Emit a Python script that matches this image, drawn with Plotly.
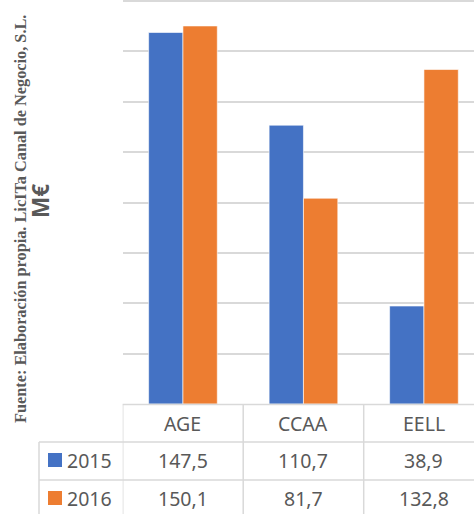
import plotly.graph_objects as go

categories = ["AGE", "CCAA", "EELL"]
years = ["2015", "2016"]
values_2015 = [147.5, 110.7, 38.9]
values_2016 = [150.1, 81.7, 132.8]
labels_2015 = ["147,5", "110,7", "38,9"]
labels_2016 = ["150,1", "81,7", "132,8"]

W, H = 474, 514
colors = ["#4472C4", "#ED7D31"]
txt = "#595959"
grid = "#d9d9d9"

def py(p):  # pixel y -> paper y
    return (H - p) / H

def px(p):
    return p / W

fig = go.Figure()
for name, vals, col in zip(years, [values_2015, values_2016], colors):
    fig.add_trace(go.Bar(x=categories, y=vals, name=name, marker_color=col,
                         marker_line=dict(color="rgba(255,255,255,0.6)", width=1)))

x_left = 122.7
col_w = 120.5
x_max = (W - x_left) / col_w - 0.5

fig.update_layout(
    width=W, height=H, margin=dict(l=0, r=0, t=0, b=0),
    paper_bgcolor="white", plot_bgcolor="white",
    showlegend=False, barmode="group", bargap=0.43, bargroupgap=0,
    xaxis=dict(domain=[px(x_left), 1], range=[-0.5, x_max], showticklabels=False,
               showgrid=False, zeroline=False, showline=False, ticks=""),
    yaxis=dict(domain=[py(404), 1], range=[0, 160.4], dtick=20, showticklabels=False,
               showgrid=True, gridcolor=grid, gridwidth=1.5, zeroline=False, showline=False,
               ticks=""),
    font=dict(family="Noto Sans", color=txt),
)

shapes = []
line = dict(color=grid, width=1.5)
# horizontal table lines
shapes.append(dict(type="line", xref="paper", yref="paper", x0=px(x_left), x1=1, y0=py(404.5), y1=py(404.5), line=line))
for yy in [442, 480]:
    shapes.append(dict(type="line", xref="paper", yref="paper", x0=px(39), x1=1, y0=py(yy), y1=py(yy), line=line))
# vertical table lines
shapes.append(dict(type="line", xref="paper", yref="paper", x0=px(39), x1=px(39), y0=py(442), y1=0, line=line))
for i in range(len(categories)):
    xv = i - 0.5
    shapes.append(dict(type="line", xref="x", yref="paper", x0=xv, x1=xv, y0=py(404.5), y1=0, line=line))
# legend keys
for yc, col in zip([460, 498], colors):
    shapes.append(dict(type="rect", xref="paper", yref="paper", x0=px(48), x1=px(62),
                       y0=py(yc + 7), y1=py(yc - 7), fillcolor=col, line=dict(width=0)))

ann = []
fs = 19.5
def A(**k):
    k.setdefault("xanchor", "center")
    k.setdefault("yanchor", "middle")
    k.setdefault("showarrow", False)
    ann.append(k)

for c in categories:
    A(x=c, xref="x", y=py(423), yref="paper", text=c, font=dict(size=fs, color=txt))
for c, a, b in zip(categories, labels_2015, labels_2016):
    A(x=c, xref="x", y=py(460), yref="paper", text=a, font=dict(size=fs, color=txt))
    A(x=c, xref="x", y=py(498), yref="paper", text=b, font=dict(size=fs, color=txt))
for yc, yr in zip([460, 498], years):
    A(x=px(65), xref="paper", y=py(yc), yref="paper", text=yr, xanchor="left",
      font=dict(size=fs, color=txt))
# side texts
A(x=px(20), xref="paper", y=py(219), yref="paper", textangle=-90,
  text="<b>Fuente: Elaboración propia. LicITa Canal de Negocio, S.L.</b>",
  font=dict(family="Liberation Serif", size=16.3, color=txt))
A(x=px(40), xref="paper", y=py(201), yref="paper", textangle=-90,
  text="<b>M€</b>", font=dict(family="Noto Sans", size=22.5, color=txt))

fig.update_layout(shapes=shapes, annotations=ann)
fig.write_html("out.html", config={"displayModeBar": False},
               post_script="document.body.style.margin='0';document.body.style.overflow='hidden';")
